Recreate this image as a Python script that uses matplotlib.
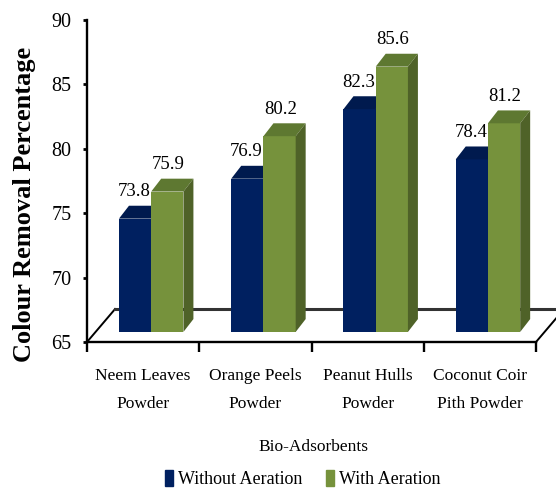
import matplotlib as mlp

mlp.use('Agg')
import matplotlib.pyplot as plt
from matplotlib.patches import Patch, Polygon

categories = ["Neem Leaves\nPowder", "Orange Peels\nPowder", "Peanut Hulls\nPowder", "Coconut Coir\nPith Powder"]
without_aeration = [73.8, 76.9, 82.3, 78.4]
with_aeration = [75.9, 80.2, 85.6, 81.2]
y_ticks = [65, 70, 75, 80, 85, 90]
x_ticks = [0, 1, 2, 3, 4]

NAVY = ('#002060', '#001A4E', '#001A4E')
GREEN = ('#76923C', '#5E7831', '#4F6228')

plt.rcParams['font.family'] = ['Liberation Serif', 'DejaVu Serif']

fig = plt.figure(dpi=100, figsize=(5.56, 4.91))
ax = fig.add_axes([87 / 556, 1 - 342 / 491, 449 / 556, 322 / 491])
ax.set_xlim(0, 4)
ax.set_ylim(65, 90)

# offsets of the bar plane from the axis wall, and depth of the 3d boxes
lift = 0.78
bar_w = 0.287
dep_x = 0.089
dep_y = 1.0


def draw_box(x, value, colors, zorder):
    ax.bar(x, value - 65, bottom=65 + lift, width=bar_w, align='edge',
           color=colors[0], zorder=zorder)
    top = value + lift
    ax.add_patch(Polygon([(x, top), (x + dep_x, top + dep_y), (x + bar_w + dep_x, top + dep_y), (x + bar_w, top)],
                         facecolor=colors[1], edgecolor='none', zorder=zorder, clip_on=False))
    ax.add_patch(Polygon([(x + bar_w, 65 + lift), (x + bar_w + dep_x, 65 + lift + dep_y),
                          (x + bar_w + dep_x, top + dep_y), (x + bar_w, top)],
                         facecolor=colors[2], edgecolor='none', zorder=zorder, clip_on=False))


for i in range(len(categories)):
    draw_box(i + 0.285, without_aeration[i], NAVY, 3)
    draw_box(i + 0.572, with_aeration[i], GREEN, 4)
    ax.annotate(str(without_aeration[i]), (i + 0.285 + bar_w / 2 - 0.01, without_aeration[i] + lift + dep_y),
                xytext=(0, 4), textcoords='offset points', ha='center', va='bottom', fontsize=13.5, zorder=6)
    ax.annotate(str(with_aeration[i]), (i + 0.572 + bar_w / 2 + 0.01, with_aeration[i] + lift + dep_y),
                xytext=(0, 4), textcoords='offset points', ha='center', va='bottom', fontsize=13.5, zorder=6)

# floor of the 3d box
floor_x = 0.25
floor_y = 2.56
ax.plot([0, floor_x], [65, 65 + floor_y], color='black', lw=1.4, clip_on=False, zorder=2)
ax.plot([4, 4 + floor_x], [65, 65 + floor_y], color='black', lw=1.4, clip_on=False, zorder=2)
ax.plot([floor_x, 4 + floor_x], [65 + floor_y, 65 + floor_y], color='#333333', lw=2.2, clip_on=False, zorder=2)

for side in ['top', 'right']:
    ax.spines[side].set_visible(False)
for side in ['left', 'bottom']:
    ax.spines[side].set_linewidth(1.7)

ax.set_yticks(y_ticks)
ax.set_xticks(x_ticks)
ax.set_xticklabels([])
ax.tick_params(axis='y', length=3, width=2, labelsize=14.5, pad=8)
ax.tick_params(axis='x', length=7, width=1.7)

for i, name in enumerate(categories):
    ax.text(i + 0.5, -0.08, name, transform=ax.get_xaxis_transform(), ha='center', va='top',
            fontsize=12.5, linespacing=2.0)

fig.text(313 / 556, 1 - 447 / 491, "Bio-Adsorbents", ha='center', va='center', fontsize=12.5)
fig.text(25 / 556, 1 - 204 / 491, "Colour Removal Percentage", rotation=90, ha='center', va='center',
         fontsize=19, fontweight='bold')

handles = [Patch(color=NAVY[0], label="Without Aeration"), Patch(color=GREEN[0], label="With Aeration")]
fig.legend(handles=handles, loc='center', bbox_to_anchor=(303 / 556, 1 - 479 / 491), ncol=2, frameon=False,
           fontsize=13, handlelength=0.45, handleheight=1.0, handletextpad=0.28, columnspacing=1.3,
           borderpad=0, borderaxespad=0)

plt.savefig('out.png', dpi=100)
